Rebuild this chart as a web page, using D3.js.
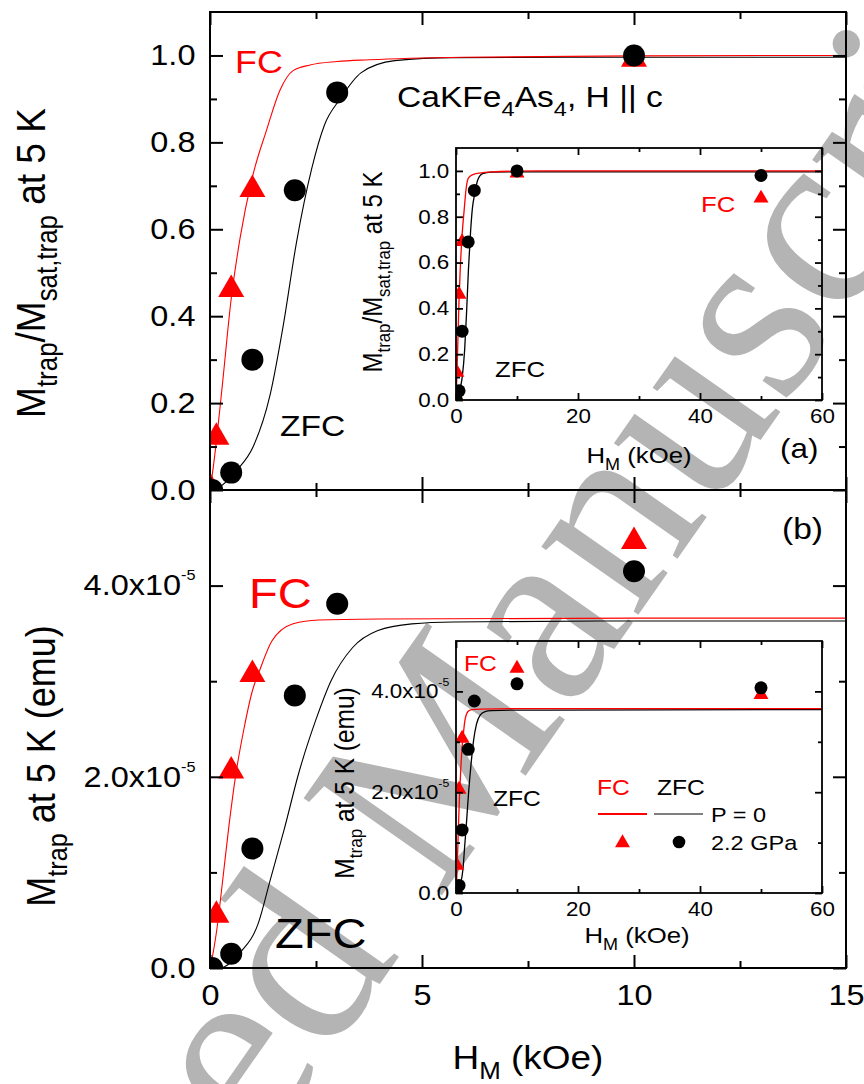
<!DOCTYPE html>
<html>
<head>
<meta charset="utf-8">
<script src="https://cdn.jsdelivr.net/npm/d3@7"></script>
<style>
  body { margin: 0; background: #fff; }
</style>
</head>
<body>
<div id="chart"></div>
<script>
// ---- data (H in kOe) ----
const fieldFC = [0, 0.15, 0.5, 1, 10, 50];
const normFC = [0.015, 0.13, 0.47, 0.70, 1.0, 0.89];
const momentFC = [0, 0.59e-5, 2.1e-5, 3.11e-5, 4.5e-5, 3.98e-5];

const fieldZFC = [0.05, 0.5, 1, 2, 3, 10, 50];
const normZFC = [0, 0.04, 0.30, 0.69, 0.915, 1.0, 0.98];
const momentZFC = [0, 0.15e-5, 1.25e-5, 2.85e-5, 3.81e-5, 4.15e-5, 4.07e-5];

// P = 0 curves
const fitNormFCx = [0, 0.06, 0.16, 0.3, 0.5, 0.71, 1.0, 1.34, 1.65, 1.96, 2.36, 3.0, 3.75, 6, 10, 15, 60];
const fitNormFCy = [0, 0.04, 0.12, 0.25, 0.44, 0.58, 0.72, 0.83, 0.92, 0.965, 0.978, 0.986, 0.99, 0.996, 0.999, 1.0, 1.0];
const fitNormZFCx = [0, 0.24, 0.63, 1.02, 1.42, 1.73, 2.04, 2.4, 2.7, 3.07, 3.56, 4.36, 5.75, 10, 15, 60];
const fitNormZFCy = [0, 0.008, 0.045, 0.10, 0.22, 0.38, 0.57, 0.74, 0.84, 0.90, 0.96, 0.988, 0.995, 0.996, 0.996, 0.996];
const fitMomFCx = [0, 0.04, 0.16, 0.3, 0.45, 0.6, 0.8, 1.0, 1.16, 1.46, 1.96, 2.56, 4, 10, 15, 60];
const fitMomFCy = [0, 0.08e-5, 0.4e-5, 0.92e-5, 1.5e-5, 2.0e-5, 2.5e-5, 2.9e-5, 3.1e-5, 3.42e-5, 3.6e-5, 3.64e-5, 3.65e-5, 3.66e-5, 3.66e-5, 3.66e-5];
const fitMomZFCx = [0, 0.24, 0.5, 0.71, 1.14, 1.42, 1.75, 2.1, 2.5, 2.85, 3.36, 3.96, 4.76, 5.75, 10, 15, 60];
const fitMomZFCy = [0, 0, 0.06e-5, 0.16e-5, 0.47e-5, 0.92e-5, 1.45e-5, 2.05e-5, 2.6e-5, 3.0e-5, 3.35e-5, 3.53e-5, 3.6e-5, 3.62e-5, 3.63e-5, 3.63e-5, 3.64e-5];

// ---- ticks ----
const mainXMajor = [0, 5, 10, 15];
const mainXMinor = [2.5, 7.5, 12.5];
const insetXMajor = [0, 20, 40, 60];
const insetXMinor = [10, 30, 50];
const normMajor = [0, 0.2, 0.4, 0.6, 0.8, 1.0];
const normMinor = [0.1, 0.3, 0.5, 0.7, 0.9];
const momentMajor = [0, 2e-5, 4e-5];
const momentMinor = [1e-5, 3e-5];

const RED = "#ff0000";
const SX = 1.12; // the original figure's text is slightly wide
const FONT = '"Liberation Sans", Arial, Helvetica, sans-serif';

const svg = d3.select("#chart").append("svg")
  .attr("width", 864).attr("height", 1084)
  .style("font-family", FONT);

// watermark behind everything
svg.append("text")
  .attr("transform", "translate(-158,1752) rotate(-55)")
  .attr("font-family", '"Liberation Serif", "Times New Roman", serif')
  .attr("font-size", 258)
  .attr("fill", "#b4b4b4")
  .text("Accepted Manuscript");

const xMain = d3.scaleLinear().domain([0, 15]).range([210, 846]);
const yTop = d3.scaleLinear().domain([0, 1.1]).range([490, 12]);
const yBot = d3.scaleLinear().domain([0, 5e-5]).range([968, 490]);
const xIn = d3.scaleLinear().domain([0, 60]).range([456, 822]);
const yInA = d3.scaleLinear().domain([0, 1.1]).range([400, 148]);
const yInB = d3.scaleLinear().domain([0, 5e-5]).range([893, 641]);

function ticks(g, axisFn, scale, pos, values, len, lw, fmt, pad, fs) {
  const a = g.append("g").attr("transform", pos)
    .call(axisFn(scale).tickValues(values).tickSizeInner(-len).tickSizeOuter(0)
      .tickPadding(pad || 0).tickFormat(fmt || (() => "")));
  a.attr("font-family", null).attr("font-size", fs || null);
  a.select(".domain").remove();
  a.selectAll(".tick line").attr("stroke", "#000").attr("stroke-width", lw);
  a.selectAll(".tick text").attr("fill", "#000").attr("transform", `scale(${SX},1)`);
  return a;
}

function sciTicks(a, fs, supSize, raise) {
  a.selectAll(".tick text").each(function(d) {
    const t = d3.select(this).text(null);
    if (d === 0) { t.text("0.0"); return; }
    const e = Math.floor(Math.log10(d) + 1e-9);
    t.append("tspan").text((d / Math.pow(10, e)).toFixed(1) + "x10");
    t.append("tspan").attr("dy", -raise * fs).attr("font-size", fs * supSize).text(e);
  });
}

let clipCount = 0;
function panel(x, y, o) {
  const g = svg.append("g");
  const [xl, xr] = x.range(), [yb, yt] = y.range();
  const id = "clip" + (++clipCount);
  svg.append("clipPath").attr("id", id).append("rect")
    .attr("x", xl).attr("y", yt).attr("width", xr - xl).attr("height", yb - yt);
  const plot = g.append("g").attr("clip-path", `url(#${id})`);

  const line = d3.line().x(d => x(d[0])).y(d => y(d[1])).curve(d3.curveMonotoneX);
  o.curves.forEach(c => {
    plot.append("path").datum(d3.zip(c.x, c.y))
      .attr("d", line).attr("fill", "none")
      .attr("stroke", c.color).attr("stroke-width", o.curveW);
  });

  const tri = d3.symbol().type(d3.symbolTriangle).size(o.triSize)();
  const triH = Math.sqrt(o.triSize * 4 / Math.sqrt(3)) * Math.sqrt(3) / 2;
  plot.selectAll(".tri").data(d3.zip(o.fc[0], o.fc[1])).join("path")
    .attr("class", "tri").attr("d", tri).attr("fill", RED)
    .attr("transform", d => `translate(${x(d[0])},${y(d[1]) + triH / 6})`);
  plot.selectAll(".dot").data(d3.zip(o.zfc[0], o.zfc[1])).join("circle")
    .attr("class", "dot").attr("r", o.r).attr("fill", "#000")
    .attr("cx", d => x(d[0])).attr("cy", d => y(d[1]));

  const ax = {};
  ax.bottom = ticks(g, d3.axisBottom, x, `translate(0,${yb})`, o.xMajor, o.major, o.lw, o.xFmt, o.xPad, o.fs);
  ticks(g, d3.axisBottom, x, `translate(0,${yb})`, o.xMinor, o.minor, o.lw);
  ticks(g, d3.axisTop, x, `translate(0,${yt})`, o.xMajor, o.major, o.lw);
  ticks(g, d3.axisTop, x, `translate(0,${yt})`, o.xMinor, o.minor, o.lw);
  ax.left = ticks(g, d3.axisLeft, y, `translate(${xl},0)`, o.yMajor, o.major, o.lw, o.yFmt, o.yPad, o.fs);
  ticks(g, d3.axisLeft, y, `translate(${xl},0)`, o.yMinor, o.minor, o.lw);
  ticks(g, d3.axisRight, y, `translate(${xr},0)`, o.yMajor, o.major, o.lw);
  ticks(g, d3.axisRight, y, `translate(${xr},0)`, o.yMinor, o.minor, o.lw);
  g.append("rect").attr("x", xl).attr("y", yt).attr("width", xr - xl).attr("height", yb - yt)
    .attr("fill", "none").attr("stroke", "#000").attr("stroke-width", o.lw);
  return ax;
}

// rich text: parts = [[string, "sub"|"sup"|undefined], ...]
function rich(x, y, parts, size, opt = {}) {
  const rot = opt.rotate ? ` rotate(-90) scale(1,${SX})` : ` scale(${SX},1)`;
  const t = svg.append("text")
    .attr("transform", `translate(${x},${y})${rot}`)
    .attr("font-size", size).attr("fill", opt.color || "#000")
    .attr("text-anchor", opt.anchor || "start");
  let shift = 0;
  parts.forEach(([s, k]) => {
    const target = k === "sub" ? size * 0.3 : k === "sup" ? -size * 0.45 : 0;
    t.append("tspan").attr("dy", target - shift)
      .attr("font-size", k ? size * 0.7 : size).text(s);
    shift = target;
  });
  return t;
}

const mainCommon = {
  xMajor: mainXMajor, xMinor: mainXMinor, major: 13, minor: 7, lw: 2,
  fs: 29, curveW: 1.1, r: 11, triSize: 293
};
const insetCommon = {
  xMajor: insetXMajor, xMinor: insetXMinor, major: 7, minor: 4, lw: 1.8,
  fs: 20, curveW: 1.3, r: 6.5, triSize: 97, xFmt: d3.format("d"), xPad: 9, yPad: 6
};

// (a) main
panel(xMain, yTop, Object.assign({}, mainCommon, {
  yMajor: normMajor, yMinor: normMinor, yFmt: d3.format(".1f"), yPad: 13,
  curves: [{ x: fitNormZFCx, y: fitNormZFCy, color: "#000" }, { x: fitNormFCx, y: fitNormFCy, color: RED }],
  fc: [fieldFC, normFC], zfc: [fieldZFC, normZFC]
}));

// (b) main
const bMain = panel(xMain, yBot, Object.assign({}, mainCommon, {
  yMajor: momentMajor, yMinor: momentMinor, yFmt: d3.format(".1e"), yPad: 13,
  xFmt: d3.format("d"), xPad: 16,
  curves: [{ x: fitMomZFCx, y: fitMomZFCy, color: "#000" }, { x: fitMomFCx, y: fitMomFCy, color: RED }],
  fc: [fieldFC, momentFC], zfc: [fieldZFC, momentZFC]
}));
sciTicks(bMain.left, 29, 0.5, 0.52);

// (a) inset
panel(xIn, yInA, Object.assign({}, insetCommon, {
  yMajor: normMajor, yMinor: normMinor, yFmt: d3.format(".1f"),
  curves: [{ x: fitNormZFCx, y: fitNormZFCy, color: "#000" }, { x: fitNormFCx, y: fitNormFCy, color: RED }],
  fc: [fieldFC, normFC], zfc: [fieldZFC, normZFC]
}));

// (b) inset
const bIn = panel(xIn, yInB, Object.assign({}, insetCommon, {
  yMajor: momentMajor, yMinor: momentMinor, yFmt: d3.format(".1e"),
  curves: [{ x: fitMomZFCx, y: fitMomZFCy, color: "#000" }, { x: fitMomFCx, y: fitMomFCy, color: RED }],
  fc: [fieldFC, momentFC], zfc: [fieldZFC, momentZFC]
}));
sciTicks(bIn.left, 20, 0.55, 0.6);

// ---- axis titles ----
rich(528, 1069, [["H"], ["M", "sub"], [" (kOe)"]], 33, { anchor: "middle" });
rich(45, 263, [["M"], ["trap", "sub"], ["/M"], ["sat,trap", "sub"], [" at 5 K"]], 37, { anchor: "middle", rotate: true });
rich(55, 766, [["M"], ["trap", "sub"], [" at 5 K (emu)"]], 36, { anchor: "middle", rotate: true });

rich(639, 463, [["H"], ["M", "sub"], [" (kOe)"]], 23, { anchor: "middle" });
rich(382, 272, [["M"], ["trap", "sub"], ["/M"], ["sat,trap", "sub"], [" at 5 K"]], 24, { anchor: "middle", rotate: true });
rich(637, 943, [["H"], ["M", "sub"], [" (kOe)"]], 23, { anchor: "middle" });
rich(354, 783, [["M"], ["trap", "sub"], [" at 5 K (emu)"]], 24.5, { anchor: "middle", rotate: true });

// ---- annotations ----
rich(235, 73, [["FC"]], 32, { color: RED });
rich(280, 436, [["ZFC"]], 30);
rich(397, 107, [["CaKFe"], ["4", "sub"], ["As"], ["4", "sub"], [", H || c"]], 30);
rich(780, 458, [["(a)"]], 28);
rich(782, 539, [["(b)"]], 30);
rich(249, 608, [["FC"]], 42, { color: RED });
rich(275, 948, [["ZFC"]], 42);

rich(701, 212, [["FC"]], 23, { color: RED });
rich(495, 377, [["ZFC"]], 23);
rich(464, 671, [["FC"]], 22, { color: RED });
rich(493, 806, [["ZFC"]], 22);

// ---- legend in inset (b) ----
rich(597, 795, [["FC"]], 22, { color: RED });
rich(657, 795, [["ZFC"]], 22);
svg.append("line").attr("x1", 598).attr("x2", 647).attr("y1", 814).attr("y2", 814)
  .attr("stroke", RED).attr("stroke-width", 2);
svg.append("line").attr("x1", 654).attr("x2", 703).attr("y1", 814).attr("y2", 814)
  .attr("stroke", "#000").attr("stroke-width", 1);
rich(711, 822, [["P = 0"]], 21);
svg.append("path").attr("d", d3.symbol().type(d3.symbolTriangle).size(97)())
  .attr("fill", RED).attr("transform", "translate(622.5,843)");
svg.append("circle").attr("cx", 679).attr("cy", 842).attr("r", 6.3).attr("fill", "#000");
rich(711, 850, [["2.2 GPa"]], 21);
</script>
</body>
</html>
